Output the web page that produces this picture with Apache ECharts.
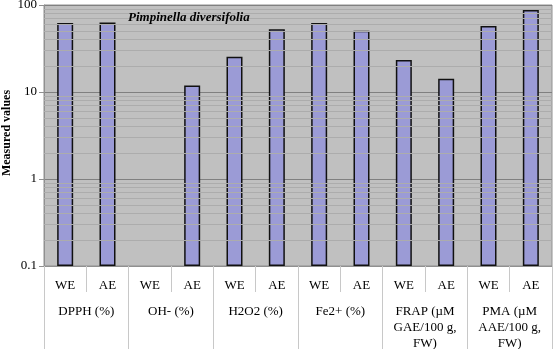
<!DOCTYPE html>
<html>
<head>
<meta charset="utf-8">
<script src="https://cdn.jsdelivr.net/npm/echarts@6/dist/echarts.min.js"></script>
<style>html,body{margin:0;padding:0;background:#fff;}#c{width:553px;height:349px;}</style>
</head>
<body>
<div id="c"></div>
<script>
var subCategories = ['WE','AE','WE','AE','WE','AE','WE','AE','WE','AE','WE','AE'];
var groups = ['DPPH (%)','OH- (%)','H2O2 (%)','Fe2+ (%)','FRAP (µM\nGAE/100 g,\nFW)','PMA (µM\nAAE/100 g,\nFW)'];
var values = [62, 63, null, 11.9, 25.5, 52.5, 62, 50.5, 23.3, 14.2, 57.4, 87.7];
var yTicks = [0.1, 1, 10, 100];
var yAxisTitle = 'Measured values';
var minorGrid = [];
[0.1, 1, 10].forEach(function(d){ for (var k = 2; k <= 9; k++) minorGrid.push(+(k*d).toPrecision(3)); });

var serif = '"Liberation Serif", "Times New Roman", serif';
var chart = echarts.init(document.getElementById('c'));
chart.setOption({
  animation: false,
  textStyle: {fontFamily: serif},
  title: {
    text: 'Pimpinella diversifolia',
    left: 123, top: 6,
    textStyle: {fontFamily: serif, fontStyle: 'italic', fontWeight: 'bold', fontSize: 13, color: '#000'}
  },
  graphic: [{
    type: 'text', x: 7, y: 133, rotation: Math.PI / 2,
    style: {text: yAxisTitle, fontFamily: serif, fontWeight: 'bold', fontSize: 12, fill: '#000', align: 'center', verticalAlign: 'middle'}
  }],
  grid: {left: 44, right: 1, top: 5, bottom: 83, show: true, backgroundColor: '#c0c0c0', borderColor: '#909090', borderWidth: 1, outerBoundsMode: 'none', containLabel: false},
  xAxis: [{
    type: 'category', data: subCategories, position: 'bottom',
    axisLine: {lineStyle: {color: '#909090', width: 1}},
    axisTick: {show: true, interval: 0, length: 26, lineStyle: {color: '#c8c8c8', width: 1}},
    axisLabel: {interval: 0, margin: 13, color: '#000', fontSize: 13, fontFamily: serif},
    splitLine: {show: false}
  }, {
    type: 'category', data: groups, position: 'bottom',
    axisLine: {show: false},
    axisTick: {show: true, interval: 0, length: 83, lineStyle: {color: '#c8c8c8', width: 1}},
    axisLabel: {interval: 0, margin: 38, color: '#000', fontSize: 13, lineHeight: 16, fontFamily: serif, verticalAlign: 'top'},
    splitLine: {show: false}
  }],
  yAxis: {
    type: 'log', logBase: 10, min: 0.1, max: 100, startValue: 0.1,
    axisLine: {show: true, lineStyle: {color: '#909090'}},
    axisTick: {show: true, length: 5, lineStyle: {color: '#909090'}},
    axisLabel: {color: '#000', fontSize: 13, margin: 7, fontFamily: serif,
      formatter: function(v){ var t = yTicks.filter(function(x){return Math.abs(x - v) < v*1e-6;}); return t.length ? String(t[0]) : ''; }},
    splitLine: {show: true, lineStyle: {color: '#808080', width: 1}}
  },
  series: [{
    type: 'bar', data: values, xAxisIndex: 0, barWidth: 16,
    itemStyle: {color: '#9b9bd6', borderColor: '#111', borderWidth: 1.5},
    markLine: {
      silent: true, symbol: 'none', label: {show: false}, animation: false,
      lineStyle: {color: '#acacac', type: 'solid', width: 1},
      data: minorGrid.map(function(v){ return {yAxis: v}; })
    },
    z: 3
  }]
});
</script>
</body>
</html>
